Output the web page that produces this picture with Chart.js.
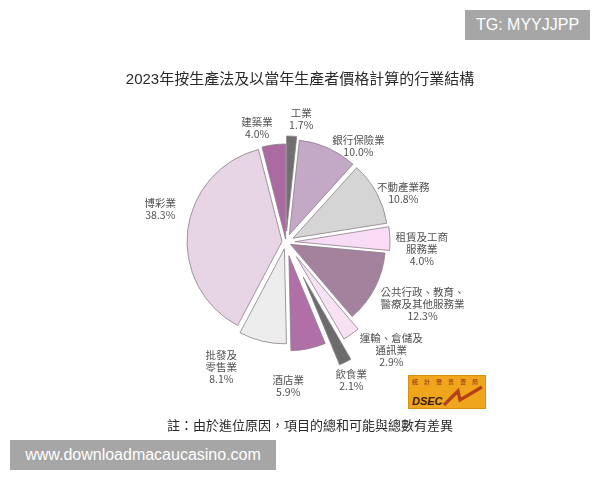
<!DOCTYPE html>
<html>
<head>
<meta charset="utf-8">
<script src="https://cdn.jsdelivr.net/npm/chart.js@4"></script>
<style>
  html, body { margin: 0; padding: 0; background: #fff; }
  #wrap { position: relative; width: 600px; height: 480px; overflow: hidden;
          font-family: 'Liberation Sans', 'Noto Sans CJK TC', sans-serif; }
  #chart { position: absolute; left: 0; top: 0; }
  .title { position: absolute; left: 0; width: 600px; top: 67px; text-align: center;
           font-size: 15px; color: #2a2a2a; }
  .note { position: absolute; left: 167px; top: 415px; font-size: 13px; color: #2a2a2a; }
  .tag { position: absolute; background: #a6a6a6; color: #fff; font-size: 16px;
         line-height: 30px; text-align: center; }
  .logo { position: absolute; left: 408px; top: 375px; }
</style>
</head>
<body>
<div id="wrap">
  <canvas id="chart" width="600" height="480"></canvas>
  <div class="title">2023年按生產法及以當年生產者價格計算的行業結構</div>
  <div class="note">註：由於進位原因，項目的總和可能與總數有差異</div>
  <div class="tag" style="left:465px; top:10px; width:125px;">TG: MYYJJPP</div>
  <div class="tag" style="left:10px; top:440px; width:266px;">www.downloadmacaucasino.com</div>
  <svg class="logo" width="78" height="34" viewBox="0 0 78 34">
    <rect x="0.5" y="0.5" width="77" height="33" fill="#efa51c" stroke="#d98f10"/>
    <text x="4" y="9" font-size="6" fill="#8a2a10" letter-spacing="6">統計暨普查局</text>
    <text x="4" y="30" font-size="11" font-weight="bold" font-style="italic" fill="#3a1a08"
          font-family="Liberation Sans, sans-serif">DSEC</text>
    <polyline points="36,30 50,16 52,25 74,12" fill="none" stroke="#b5401a" stroke-width="3.2"
              stroke-linejoin="miter"/>
  </svg>
</div>

<script>
// --- chart data (clockwise from 12 o'clock) ---
const sectors = [
  ['工業'],
  ['銀行保險業'],
  ['不動產業務'],
  ['租賃及工商', '服務業'],
  ['公共行政、教育、', '醫療及其他服務業'],
  ['運輸、倉儲及', '通訊業'],
  ['飲食業'],
  ['酒店業'],
  ['批發及', '零售業'],
  ['博彩業'],
  ['建築業']
];
const shares = [1.7, 10.0, 10.8, 4.0, 12.3, 2.9, 2.1, 5.9, 8.1, 38.3, 4.0];

// --- styling ---
const sliceColors = ['#6f6f6f', '#c3a9c6', '#d5d5d5', '#f8dcf5', '#a4829e', '#f6e2f3',
                     '#6c6c6c', '#b070a7', '#ededed', '#e7d4e5', '#ab6aa1'];
const explode = [11, 8, 8, 9, 5, 18, 39, 14, 7, 4, 3];      // px pushed out from centre
const labelDist = [124, 120, 127, 136, 150, 151, 153, 144, 141, 130, 118];
const labelTurn = [4, 13, 6, 5, -3, -9, 1, 11, 14, 8, -7]; // degrees, clockwise

// draw each slice shifted out by its own amount (whole translation, no radius growth)
const explodePlugin = {
  id: 'explodeSlices',
  beforeDatasetDraw(chart, args) {
    const ctx = chart.ctx;
    args.meta.data.forEach((arc, i) => {
      const mid = (arc.startAngle + arc.endAngle) / 2;
      ctx.save();
      ctx.translate(Math.cos(mid) * explode[i], Math.sin(mid) * explode[i]);
      arc.draw(ctx);
      ctx.restore();
    });
    return false;
  }
};

// name + percentage next to each slice
const labelPlugin = {
  id: 'sliceLabels',
  afterDatasetsDraw(chart) {
    const ctx = chart.ctx;
    const meta = chart.getDatasetMeta(0);
    ctx.save();
    ctx.font = "10.5px 'Liberation Sans Narrow', 'Noto Sans CJK TC', sans-serif";
    ctx.fillStyle = '#505050';
    ctx.textAlign = 'center';
    ctx.textBaseline = 'middle';
    meta.data.forEach((arc, i) => {
      const a = (arc.startAngle + arc.endAngle) / 2 + labelTurn[i] * Math.PI / 180;
      const cx = arc.x + Math.cos(a) * labelDist[i];
      const cy = arc.y + Math.sin(a) * labelDist[i];
      const lines = sectors[i].concat([shares[i].toFixed(1) + '%']);
      const lh = 12;
      const top = cy - (lines.length - 1) * lh / 2;
      lines.forEach((t, k) => ctx.fillText(t, cx, top + k * lh));
    });
    ctx.restore();
  }
};

new Chart(document.getElementById('chart'), {
  type: 'pie',
  data: {
    labels: sectors.map(s => s.join('')),
    datasets: [{
      data: shares,
      backgroundColor: sliceColors,
      borderColor: '#8c7f8a',
      borderWidth: 0.8,
      offset: 0
    }]
  },
  options: {
    responsive: false,
    animation: false,
    radius: 95,
    rotation: 0,
    layout: { padding: { left: 100, right: 128, top: 120, bottom: 116 } },
    events: [],
    plugins: {
      legend: { display: false },
      title: { display: false },
      tooltip: { enabled: false }
    }
  },
  plugins: [explodePlugin, labelPlugin]
});
</script>
</body>
</html>
